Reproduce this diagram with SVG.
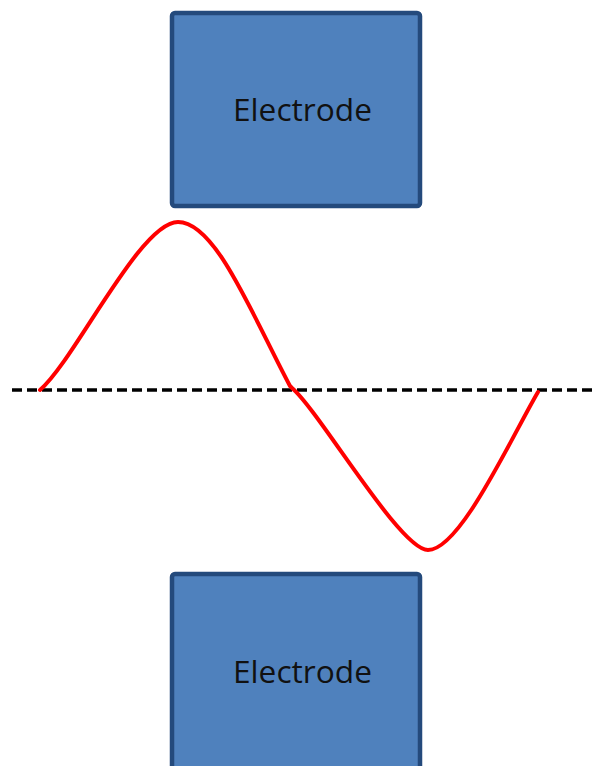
<svg xmlns="http://www.w3.org/2000/svg" width="596" height="766" viewBox="0 0 596 766">
<style>
.box{fill:#4F81BD;stroke:#244A7C;stroke-width:4.5}
.lbl{font-family:"Open Sans","Liberation Sans",sans-serif;font-size:30.5px;fill:#111}
</style>
<rect width="596" height="766" fill="#fff"/>
<g id="electrode-top">
<rect class="box" x="172" y="13" width="248" height="193" rx="3"/>
<text class="lbl" x="233" y="121" textLength="139" lengthAdjust="spacingAndGlyphs">Electrode</text>
</g>
<g id="electrode-bottom">
<rect class="box" x="172" y="574" width="248" height="220" rx="3"/>
<text class="lbl" x="233" y="683" textLength="139" lengthAdjust="spacingAndGlyphs">Electrode</text>
</g>
<g id="connectors">
<line x1="12" y1="390" x2="596" y2="390" stroke="#000" stroke-width="3.5" stroke-dasharray="10,5"/>
<path d="M40,390 C75,360 140,222 178,222 C215,222 250,310 290,386 L292,388 C320,412 400,550 428,550 C460,550 510,440 538,392" fill="none" stroke="#FF0000" stroke-width="4" stroke-linecap="round" stroke-linejoin="round"/>
</g>
</svg>
